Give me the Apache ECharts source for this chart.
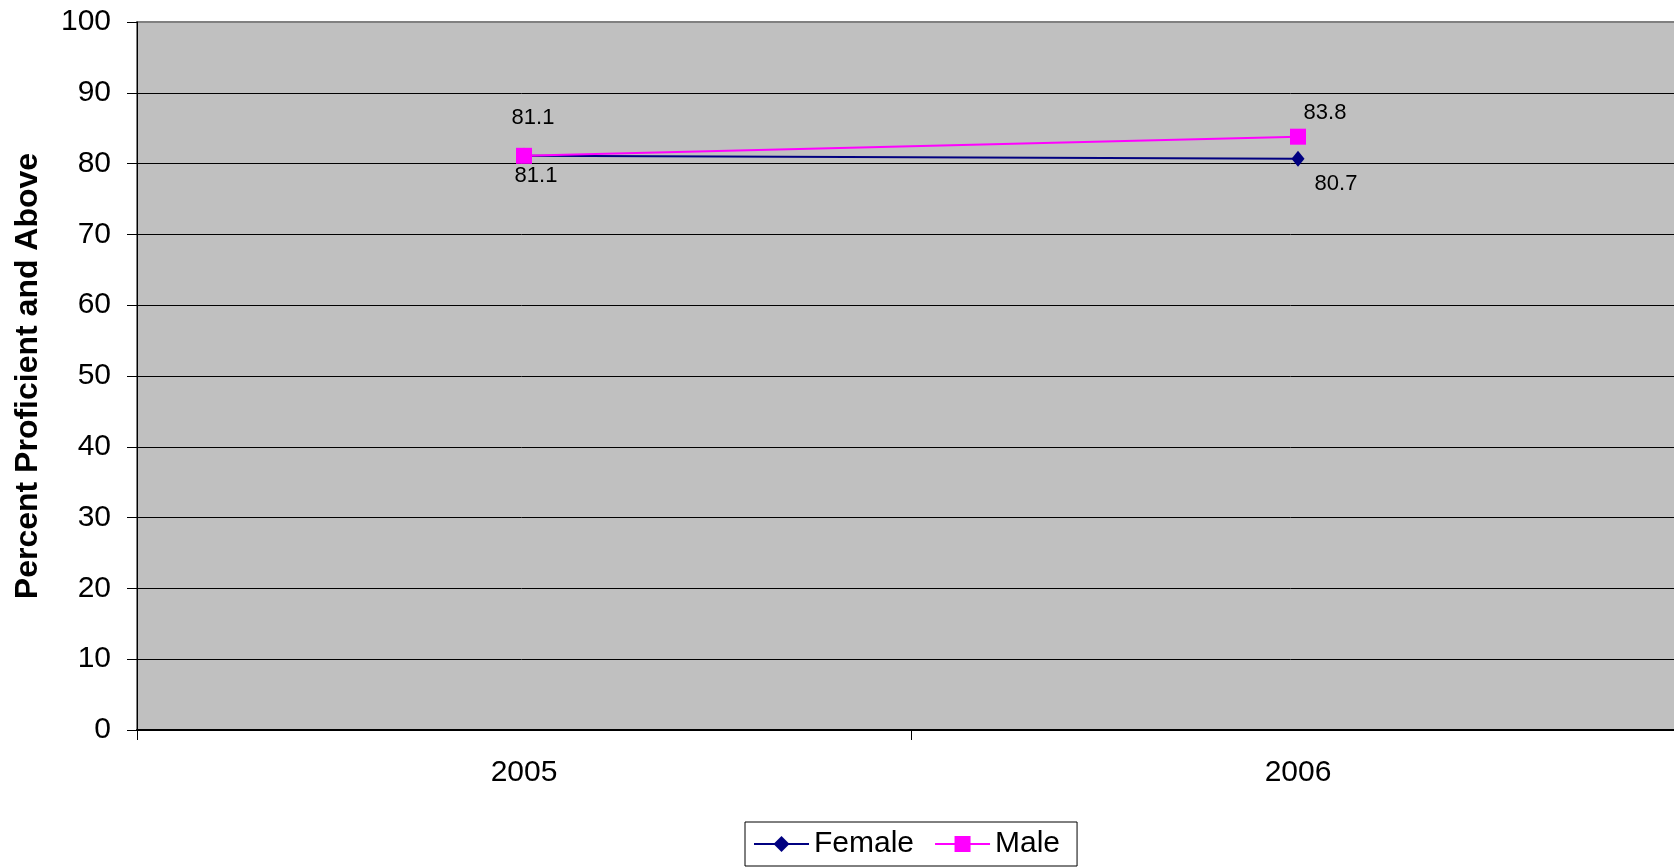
<!DOCTYPE html>
<html>
<head>
<meta charset="utf-8">
<script src="https://cdn.jsdelivr.net/npm/echarts@6/dist/echarts.min.js"></script>
<style>
html,body{margin:0;padding:0;background:#fff;}
#chart{width:1674px;height:867px;}
</style>
</head>
<body>
<div id="chart"></div>
<script>
const categories = ['2005', '2006'];
const femaleValues = [81.1, 80.7];
const maleValues = [81.1, 83.8];
const yTicks = [0, 10, 20, 30, 40, 50, 60, 70, 80, 90, 100];

const femaleLabelOffsets = [[12, 20], [38, 25]];
const maleLabelOffsets = [[9, -38], [27, -24]];

function buildData(values, offsets) {
  return values.map((v, i) => ({
    value: v,
    label: { offset: offsets[i] }
  }));
}

const FONT = '"Liberation Sans", Arial, sans-serif';
const chart = echarts.init(document.getElementById('chart'), null, { renderer: 'canvas' });
chart.setOption({
  animation: false,
  backgroundColor: '#ffffff',
  textStyle: { fontFamily: FONT },
  grid: {
    left: 137, top: 22, right: -11, bottom: 137,
    containLabel: false,
    outerBoundsMode: 'none',
    show: true, backgroundColor: '#C0C0C0', borderColor: '#808080', borderWidth: 2
  },
  legend: {
    left: 745, top: 822,
    padding: [7, 17, 7, 8],
    itemGap: 20,
    itemWidth: 55, itemHeight: 20,
    borderColor: '#000', borderWidth: 1,
    backgroundColor: '#fff',
    textStyle: { fontSize: 30, color: '#000', fontFamily: FONT },
    data: ['Female', 'Male']
  },
  xAxis: {
    type: 'category',
    data: categories,
    boundaryGap: true,
    axisLine: { lineStyle: { color: '#000', width: 2 } },
    axisTick: { show: true, length: 10, lineStyle: { color: '#000', width: 1 } },
    axisLabel: { fontSize: 30, color: '#000', margin: 28, fontFamily: FONT },
    splitLine: { show: false }
  },
  yAxis: {
    type: 'value',
    min: yTicks[0], max: yTicks[yTicks.length - 1], interval: yTicks[1] - yTicks[0],
    name: 'Percent Proficient and Above',
    nameLocation: 'middle',
    nameGap: 93,
    nameTextStyle: { fontSize: 32, fontWeight: 'bold', color: '#000', fontFamily: FONT },
    axisLine: { show: true, lineStyle: { color: '#000', width: 1 } },
    axisTick: { show: true, length: 10, lineStyle: { color: '#000' } },
    axisLabel: { fontSize: 30, color: '#000', margin: 26, fontFamily: FONT },
    splitLine: { show: true, showMaxLine: false, showMinLine: false, lineStyle: { color: '#000', width: 1 } }
  },
  series: [
    {
      name: 'Female',
      type: 'line',
      data: buildData(femaleValues, femaleLabelOffsets),
      symbol: 'diamond',
      symbolSize: [13, 16],
      itemStyle: { color: '#000080' },
      lineStyle: { color: '#000080', width: 2 },
      label: { show: true, position: 'inside', fontSize: 22, color: '#000', fontFamily: FONT,
        formatter: p => p.value.toFixed(1) },
      z: 3
    },
    {
      name: 'Male',
      type: 'line',
      data: buildData(maleValues, maleLabelOffsets),
      symbol: 'rect',
      symbolSize: 16,
      itemStyle: { color: '#FF00FF' },
      lineStyle: { color: '#FF00FF', width: 2 },
      label: { show: true, position: 'inside', fontSize: 22, color: '#000', fontFamily: FONT,
        formatter: p => p.value.toFixed(1) },
      z: 4
    }
  ]
});
</script>
</body>
</html>
